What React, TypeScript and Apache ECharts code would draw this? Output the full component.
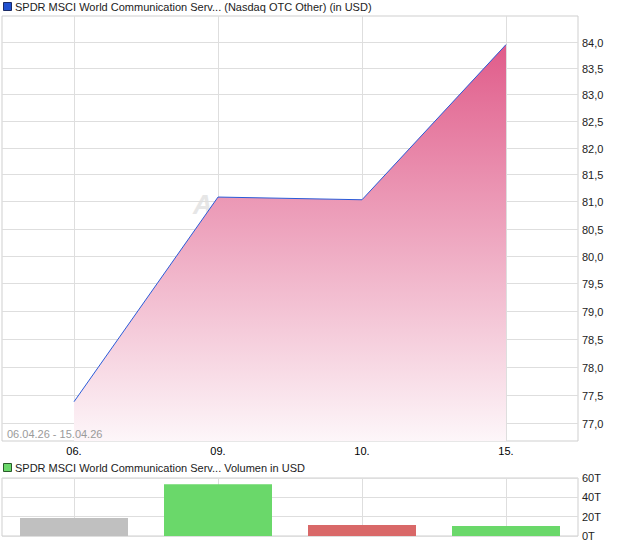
import React, { useEffect, useRef } from "react";
import * as echarts from "echarts";

const categories = ["06.", "09.", "10.", "15."];
const prices = [77.38, 81.08, 81.03, 83.95];
const priceTicks = [77.0, 77.5, 78.0, 78.5, 79.0, 79.5, 80.0, 80.5, 81.0, 81.5, 82.0, 82.5, 83.0, 83.5, 84.0];
const priceMin = 76.69;
const priceMax = 84.5;
const volumes = [18.5, 53.5, 11.3, 10.3];
const volumeColors = ["#c0c0c0", "#6ad86a", "#d96868", "#6ad86a"];
const volumeTicks = [0, 20, 40, 60];
const priceTitle = "SPDR MSCI World Communication Serv... (Nasdaq OTC Other) (in USD)";
const volumeTitle = "SPDR MSCI World Communication Serv... Volumen in USD";
const dateRange = "06.04.26 - 15.04.26";

const FONT = '"Liberation Sans", Arial, sans-serif';

export default function App() {
  const ref = useRef<HTMLDivElement>(null);
  useEffect(() => {
    if (!ref.current) return;
    const chart = echarts.init(ref.current, undefined, { renderer: "svg" });
    chart.setOption({
      animation: false,
      backgroundColor: "#ffffff",
      textStyle: { fontFamily: FONT },
      grid: [
        { left: 2, right: 42, top: 16, height: 425, show: true, borderColor: "#cfcfcf", borderWidth: 1 },
        { left: 2, right: 42, top: 478, height: 58, show: true, borderColor: "#cfcfcf", borderWidth: 1 },
      ],
      xAxis: [
        {
          type: "category",
          gridIndex: 0,
          data: categories,
          boundaryGap: true,
          axisLine: { show: false },
          axisTick: { show: false, alignWithLabel: true },
          axisLabel: { color: "#000", fontSize: 11, margin: 4, fontFamily: FONT },
          splitLine: { show: true, alignWithLabel: true, lineStyle: { color: "#dedede", width: 1 } },
        },
        {
          type: "category",
          gridIndex: 1,
          data: categories,
          boundaryGap: true,
          axisLine: { show: false },
          axisTick: { show: false, alignWithLabel: true },
          axisLabel: { show: false },
          splitLine: { show: true, alignWithLabel: true, lineStyle: { color: "#dedede", width: 1 } },
        },
      ],
      yAxis: [
        {
          // logarithmic price scale: values are plotted as ln(price)
          type: "value",
          gridIndex: 0,
          position: "right",
          min: Math.log(priceMin),
          max: Math.log(priceMax),
          axisLine: { show: false },
          axisTick: { show: false },
          axisLabel: { show: false },
          splitLine: { show: false },
        },
        {
          type: "value",
          gridIndex: 1,
          position: "right",
          min: volumeTicks[0],
          max: volumeTicks[volumeTicks.length - 1],
          interval: 20,
          axisLine: { show: false },
          axisTick: { show: false },
          axisLabel: {
            color: "#222",
            fontSize: 11,
            margin: 4,
            fontFamily: FONT,
            formatter: (v: number) => v + "T",
          },
          splitLine: { show: true, lineStyle: { color: "#dedede", width: 1 } },
        },
      ],
      series: [
        {
          // horizontal grid lines and tick labels of the log price axis
          type: "custom",
          xAxisIndex: 0,
          yAxisIndex: 0,
          z: 1,
          silent: true,
          clip: false,
          data: priceTicks.map((t) => [0, Math.log(t)]),
          renderItem: (params: any, api: any) => {
            const cs = params.coordSys;
            const y = Math.round(api.coord([0, api.value(1)])[1]) + 0.5;
            const t = priceTicks[params.dataIndex];
            return {
              type: "group",
              children: [
                {
                  type: "line",
                  shape: { x1: cs.x, y1: y, x2: cs.x + cs.width, y2: y },
                  style: { stroke: "#dedede", lineWidth: 1 },
                },
                {
                  type: "text",
                  x: cs.x + cs.width + 4,
                  y: y,
                  style: {
                    text: t.toFixed(1).replace(".", ","),
                    fill: "#222",
                    font: '11px "Liberation Sans", Arial, sans-serif',
                    verticalAlign: "middle",
                    align: "left",
                  },
                },
              ],
            };
          },
        },
        {
          type: "line",
          xAxisIndex: 0,
          yAxisIndex: 0,
          data: prices.map((p) => Math.log(p)),
          symbol: "none",
          z: 3,
          lineStyle: { color: "#2a5bd8", width: 1 },
          areaStyle: {
            origin: "start",
            opacity: 1,
            color: new echarts.graphic.LinearGradient(0, 0, 0, 1, [
              { offset: 0, color: "#e05c8a" },
              { offset: 1, color: "#fdf6f9" },
            ]),
          },
        },
        {
          type: "bar",
          xAxisIndex: 1,
          yAxisIndex: 1,
          barWidth: 108,
          data: volumes.map((v, i) => ({ value: v, itemStyle: { color: volumeColors[i] } })),
        },
      ],
      graphic: [
        {
          type: "text",
          x: 193,
          y: 191,
          z: 0,
          style: { text: "A", fill: "#e6e6e6", font: 'italic bold 27px "Liberation Sans", Arial, sans-serif' },
        },
        {
          type: "rect",
          shape: { x: 3.5, y: 2.5, width: 8, height: 8 },
          style: { fill: "#2050d0", stroke: "#1b2b66", lineWidth: 1 },
          z: 10,
        },
        {
          type: "text",
          x: 15,
          y: 7,
          z: 10,
          style: { text: priceTitle, fill: "#222", font: '11px "Liberation Sans", Arial, sans-serif', verticalAlign: "middle" },
        },
        {
          type: "text",
          x: 7,
          y: 434,
          z: 10,
          style: { text: dateRange, fill: "#9a9a9a", font: '11px "Liberation Sans", Arial, sans-serif', verticalAlign: "middle" },
        },
        {
          type: "rect",
          shape: { x: 3.5, y: 463.5, width: 8, height: 8 },
          style: { fill: "#6ad86a", stroke: "#2a5a2a", lineWidth: 1 },
          z: 10,
        },
        {
          type: "text",
          x: 15,
          y: 468,
          z: 10,
          style: { text: volumeTitle, fill: "#222", font: '11px "Liberation Sans", Arial, sans-serif', verticalAlign: "middle" },
        },
      ],
    });
    return () => chart.dispose();
  }, []);
  return (
    <div
      ref={ref}
      style={{ position: "fixed", left: 0, top: 0, width: 620, height: 546, background: "#fff" }}
    />
  );
}
